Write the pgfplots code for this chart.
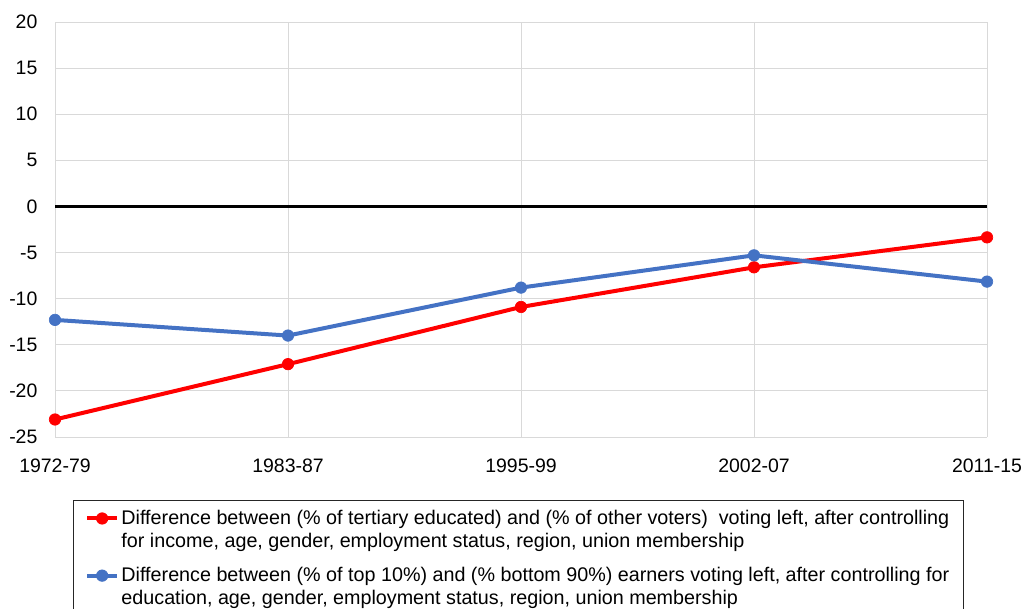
\documentclass[border=0pt]{standalone}
\usepackage{fontspec}
\setmainfont{Liberation Sans}
\usepackage{pgfplots}
\pgfplotsset{compat=1.18}
\definecolor{myred}{HTML}{FF0000}
\definecolor{myblue}{HTML}{4472C4}
\definecolor{gridc}{HTML}{D9D9D9}
\begin{document}
\fontsize{14.6}{16.5}\selectfont
\begin{tikzpicture}
\path[use as bounding box] (0,0) rectangle (770.25pt,-456pt);
\begin{axis}[
  at={(41.25pt,-16.5pt)}, anchor=north west,
  scale only axis, width=699pt, height=311.25pt,
  xmin=0, xmax=4, ymin=-25, ymax=20,
  xtick={0,1,2,3,4},
  xticklabels={1972-79,1983-87,1995-99,2002-07,2011-15},
  ytick={-25,-20,-15,-10,-5,0,5,10,15,20},
  yticklabels={-25,-20,-15,-10,-5,0,5,10,15,20},
  grid=major, major grid style={draw=gridc, line width=0.75pt},
  axis line style={draw=none}, major tick length=0pt,
  tick label style={font=\fontsize{14.6}{16}\selectfont, inner sep=0pt},
  yticklabel style={anchor=east, xshift=-13pt},
  xticklabel style={anchor=north, yshift=-16.5pt},
  clip=false,
  legend style={at={(0.0193,-0.1518)}, anchor=north west, draw=black!85, line width=0.75pt,
    font=\fontsize{14.8}{17.25}\selectfont, cells={align=left, anchor=west},
    inner xsep=9pt, inner ysep=5pt, row sep=8.7pt},
  legend image code/.code={\draw[#1, mark repeat=2, mark phase=2] plot coordinates {(0pt,8.6pt) (11pt,8.6pt) (22pt,8.6pt)};},
]
\addplot[black, line width=2.25pt, forget plot] coordinates {(0,0) (4,0)};
\addplot[myred, line width=3pt, mark=*, mark size=4.3pt, mark options={solid, fill=myred, draw=myred, line width=0.5pt}]
  coordinates {(0,-23.1) (1,-17.1) (2,-10.9) (3,-6.6) (4,-3.35)};
\addlegendentry{Difference between (\% of tertiary educated) and (\% of other voters)\ \ voting left, after controlling\\for income, age, gender, employment status, region, union membership}
\addplot[myblue, line width=3pt, mark=*, mark size=4.3pt, mark options={solid, fill=myblue, draw=myblue, line width=0.5pt}]
  coordinates {(0,-12.3) (1,-14.0) (2,-8.8) (3,-5.3) (4,-8.15)};
\addlegendentry{Difference between (\% of top 10\%) and (\% bottom 90\%) earners voting left, after controlling for\\education, age, gender, employment status, region, union membership}
\end{axis}
\end{tikzpicture}
\end{document}
